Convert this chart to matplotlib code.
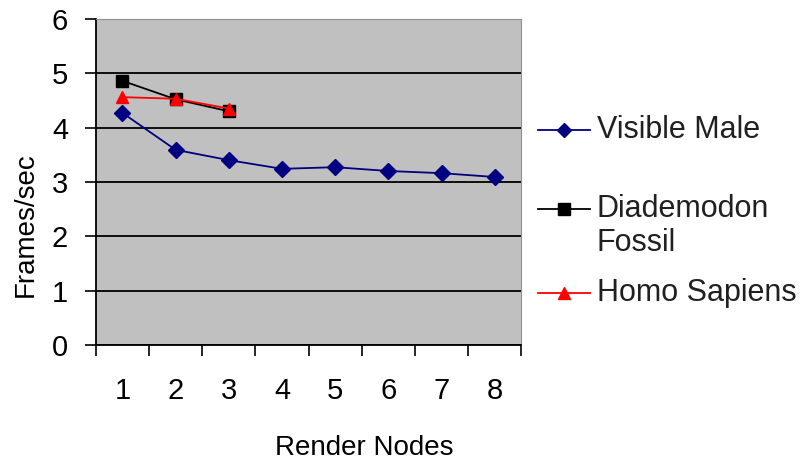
import matplotlib.pyplot as plt
from matplotlib.lines import Line2D

plt.rcParams['font.family'] = ['Liberation Sans', 'DejaVu Sans']

# Frames/sec per number of render nodes
nodes = [1, 2, 3, 4, 5, 6, 7, 8]
visible_male = [4.27, 3.59, 3.40, 3.24, 3.27, 3.20, 3.16, 3.09]
diademodon_nodes = [1, 2, 3]
diademodon = [4.86, 4.52, 4.30]
homo_nodes = [1, 2, 3]
homo_sapiens = [4.56, 4.53, 4.35]

fig = plt.figure(figsize=(8.12, 4.61), dpi=100)
ax = fig.add_axes([0.118, 0.252, 0.524, 0.707])
ax.set_facecolor('#c0c0c0')

series = [
    (nodes, visible_male, '#000080', 'D', 8, ['Visible Male']),
    (diademodon_nodes, diademodon, 'black', 's', 9, ['Diademodon', 'Fossil']),
    (homo_nodes, homo_sapiens, '#ff0000', '^', 9, ['Homo Sapiens']),
]
for i, (x, y, c, m, ms, _) in enumerate(series):
    ax.plot(x, y, color=c, marker=m, markersize=ms, linewidth=1.3, zorder=3 + i)

ax.set_xlim(0.5, 8.5)
ax.set_ylim(0, 6)
ax.set_yticks(range(0, 7))
ax.yaxis.grid(True, color='black', linewidth=1.3)
ax.set_axisbelow(True)

# category labels centred, tick marks between categories
ax.set_xticks(nodes)
ax.set_xticks([n + 0.5 for n in range(0, 9)], minor=True)
ax.tick_params(axis='x', which='major', length=0, pad=23, labelsize=21)
ax.tick_params(axis='x', which='minor', length=8, width=1.2, direction='out')
ax.tick_params(axis='y', length=8, width=1.2, direction='out', pad=12, labelsize=21)

for side in ['left', 'bottom']:
    ax.spines[side].set_linewidth(1.3)
for side in ['top', 'right']:
    ax.spines[side].set_color('#909090')

ax.set_xlabel('Render Nodes', fontsize=20)
ax.xaxis.set_label_coords(0.632, -0.276)
ax.set_ylabel('Frames/sec', fontsize=20)
ax.yaxis.set_label_coords(-0.134, 0.368)

# legend drawn by hand so the marker sits on the first line of a two-line label
legend_y = [0.718, 0.5465, 0.3645]
for (x, y, c, m, ms, lines), ly in zip(series, legend_y):
    fig.add_artist(Line2D([0.6626, 0.6946, 0.7266], [ly, ly, ly], color=c,
                          marker=m, markersize=ms - 1, markevery=[1],
                          linewidth=1.3, transform=fig.transFigure))
    for k, txt in enumerate(lines):
        fig.text(0.735, ly - k * 0.074, txt, fontsize=22, va='center',
                 ha='left', color='#202020')

fig.savefig('out.png')
